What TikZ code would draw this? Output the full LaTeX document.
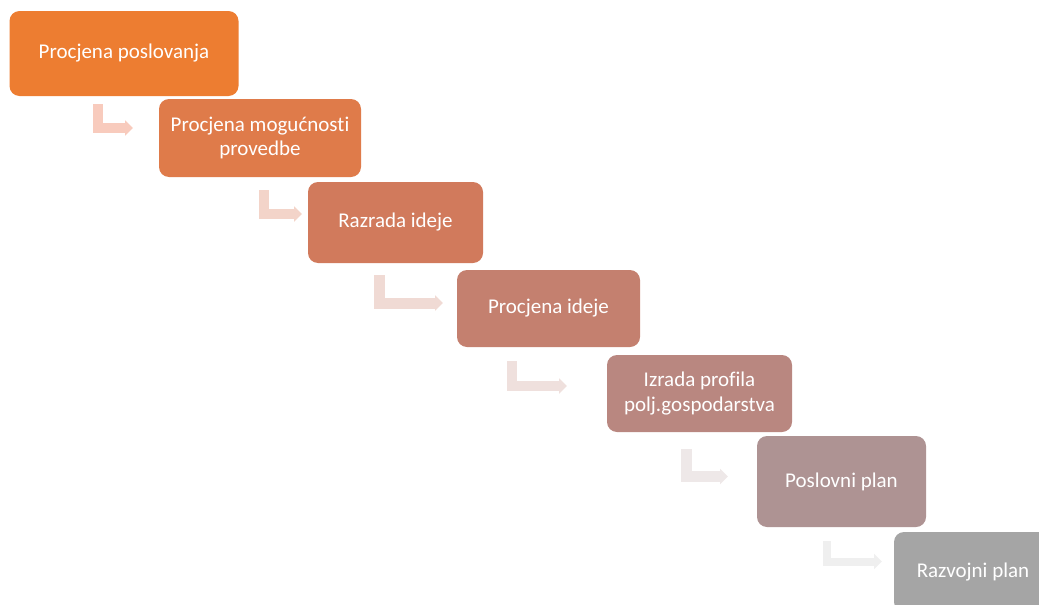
\documentclass[tikz,border=0pt]{standalone}
\usepackage{fontspec}
\setmainfont{Carlito}[Ligatures={NoCommon}]
\usetikzlibrary{arrows.meta}
\definecolor{c1}{HTML}{ED7D31}
\definecolor{c2}{HTML}{DF7B4A}
\definecolor{c3}{HTML}{D17A5C}
\definecolor{c4}{HTML}{C4806F}
\definecolor{c5}{HTML}{B98780}
\definecolor{c6}{HTML}{AE9393}
\definecolor{c7}{HTML}{A5A5A5}
\definecolor{a1}{HTML}{F8CBBD}
\definecolor{a2}{HTML}{F3D4C9}
\definecolor{a3}{HTML}{F0DAD4}
\definecolor{a4}{HTML}{EFE0DD}
\definecolor{a5}{HTML}{EEE8E8}
\definecolor{a6}{HTML}{EFEFEF}
\tikzset{
  box/.style={rounded corners=10pt, draw=none, text=white, align=center,
    font=\fontsize{21}{24.5}\selectfont, inner sep=0pt},
  arr/.style={line width=10pt, line join=miter, line cap=butt,
    -{Triangle[length=8pt,width=15pt]}}
}
\begin{document}
\begin{tikzpicture}[x=1pt,y=-1pt]
\useasboundingbox (0,0) rectangle (1039,605);
\node[box, fill=c1, minimum width=229pt, minimum height=85pt] (b1) at (124,53.5) {Procjena poslovanja};
\node[box, fill=c2, minimum width=202pt, minimum height=78pt] (b2) at (260,138) {Procjena mogućnosti\\provedbe};
\node[box, fill=c3, minimum width=175pt, minimum height=81pt] (b3) at (395.5,222.5) {Razrada ideje};
\node[box, fill=c4, minimum width=183pt, minimum height=77pt] (b4) at (548.5,308.5) {Procjena ideje};
\node[box, fill=c5, minimum width=185pt, minimum height=77pt] (b5) at (699.5,393.5) {Izrada profila\\polj.gospodarstva};
\node[box, fill=c6, minimum width=169pt, minimum height=91pt] (b6) at (841.5,481.5) {Poslovni plan};
\node[box, fill=c7, minimum width=158pt, minimum height=80pt] (b7) at (973,572) {Razvojni plan};

\coordinate (s1) at (97.5,104);  \coordinate (e1) at (133,128);
\coordinate (s2) at (263.5,190); \coordinate (e2) at (302,214);
\coordinate (s3) at (379,275);   \coordinate (e3) at (443,303);
\coordinate (s4) at (512,361);   \coordinate (e4) at (567,386);
\coordinate (s5) at (686,449);   \coordinate (e5) at (728,476.5);
\coordinate (s6) at (827,541);   \coordinate (e6) at (882,561.5);

\draw[arr, a1] (s1) |- (e1);
\draw[arr, a2] (s2) |- (e2);
\draw[arr, a3, line width=11pt] (s3) |- (e3);
\draw[arr, a4] (s4) |- (e4);
\draw[arr, a5, line width=11pt] (s5) |- (e5);
\draw[arr, a6, line width=8pt] (s6) |- (e6);
\end{tikzpicture}
\end{document}
